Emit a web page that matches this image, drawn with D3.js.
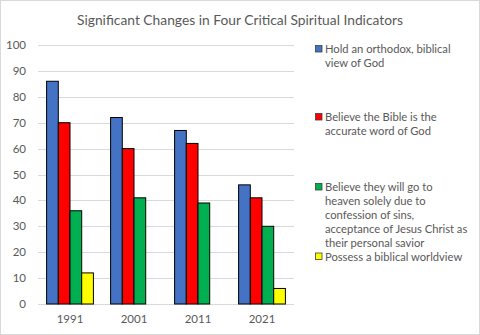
<!DOCTYPE html>
<html>
<head>
<meta charset="utf-8">
<script src="https://cdn.jsdelivr.net/npm/d3@7"></script>
<style>
  body { margin: 0; background: #fff; }
  svg { display: block; font-family: Lato, "Open Sans", sans-serif; }
</style>
</head>
<body>
<div id="chart"></div>
<script>
// Chart data
const years = ['1991', '2001', '2011', '2021'];
const orthodoxGod = [86, 72, 67, 46];
const bibleAccurate = [70, 60, 62, 41];
const heavenByGrace = [36, 41, 39, 30];
const biblicalWorldview = [12, 0, 0, 6];
const seriesNames = [
  ['Hold an orthodox, biblical', 'view of God'],
  ['Believe the Bible is the', 'accurate word of God'],
  ['Believe they will go to', 'heaven solely due to', 'confession of sins,', 'acceptance of Jesus Christ as', 'their personal savior'],
  ['Possess a biblical worldview']
];
const seriesColors = ['#4472C4', '#FF0000', '#00B050', '#FFFF00'];
const yTicks = [0, 10, 20, 30, 40, 50, 60, 70, 80, 90, 100];
const allSeries = [orthodoxGod, bibleAccurate, heavenByGrace, biblicalWorldview];

const width = 480, height = 335;
const margin = {top: 45, right: 186, bottom: 31, left: 38};

const svg = d3.select('#chart').append('svg')
  .attr('width', width)
  .attr('height', height);

// outer chart border
svg.append('rect')
  .attr('x', 0.5).attr('y', 0.5)
  .attr('width', width - 1).attr('height', height - 1)
  .attr('fill', '#fff')
  .attr('stroke', '#d9d9d9');

svg.append('text')
  .attr('x', 240)
  .attr('y', 25)
  .attr('text-anchor', 'middle')
  .attr('fill', '#595959')
  .style('font-size', '13.8px')
  .text('Significant Changes in Four Critical Spiritual Indicators');

const x = d3.scaleBand()
  .domain(years)
  .range([margin.left, width - margin.right]);

const xInner = d3.scaleBand()
  .domain(d3.range(allSeries.length))
  .range([0, x.bandwidth()])
  .paddingOuter(0.735);

const y = d3.scaleLinear()
  .domain([0, 100])
  .range([height - margin.bottom, margin.top]);

// gridlines
svg.append('g')
  .selectAll('line')
  .data(yTicks)
  .join('line')
  .attr('x1', margin.left)
  .attr('x2', width - margin.right)
  .attr('y1', d => Math.round(y(d)) + 0.5)
  .attr('y2', d => Math.round(y(d)) + 0.5)
  .attr('stroke', '#d9d9d9');

// y tick labels
svg.append('g')
  .selectAll('text')
  .data(yTicks)
  .join('text')
  .attr('x', 26)
  .attr('y', d => y(d) + 4)
  .attr('text-anchor', 'end')
  .attr('fill', '#595959')
  .style('font-size', '11.5px')
  .text(d => d);

// x labels
svg.append('g')
  .selectAll('text')
  .data(years)
  .join('text')
  .attr('x', d => x(d) + x.bandwidth() / 2)
  .attr('y', 323)
  .attr('text-anchor', 'middle')
  .attr('fill', '#595959')
  .style('font-size', '11.5px')
  .text(d => d);

// bars
allSeries.forEach((values, si) => {
  svg.append('g')
    .selectAll('rect')
    .data(values.map((v, i) => ({year: years[i], value: v})).filter(d => d.value > 0))
    .join('rect')
    .attr('x', d => x(d.year) + xInner(si))
    .attr('y', d => y(d.value))
    .attr('width', xInner.bandwidth())
    .attr('height', d => y(0) - y(d.value))
    .attr('fill', seriesColors[si])
    .attr('stroke', '#000')
    .attr('stroke-width', 1);
});

// legend
const legendY = [53, 121, 191, 260.5];
const legend = svg.append('g');
seriesNames.forEach((lines, i) => {
  legend.append('rect')
    .attr('x', 315.5)
    .attr('y', legendY[i] - 7.5)
    .attr('width', 6.5)
    .attr('height', 6.5)
    .attr('fill', seriesColors[i])
    .attr('stroke', '#404040')
    .attr('stroke-width', 0.8);
  const t = legend.append('text')
    .attr('fill', '#595959')
    .style('font-size', '11.2px');
  lines.forEach((line, li) => {
    t.append('tspan')
      .attr('x', 325)
      .attr('y', legendY[i] + li * 14)
      .text(line);
  });
});
</script>
</body>
</html>
